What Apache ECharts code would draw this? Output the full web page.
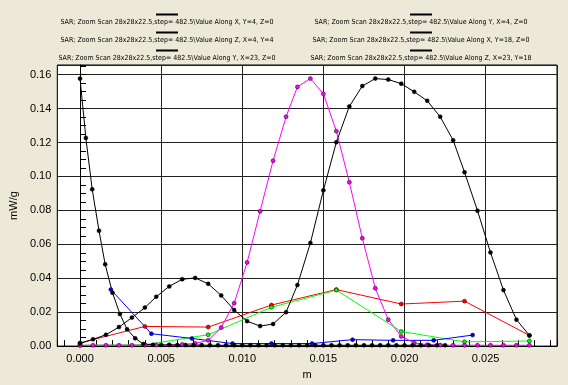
<!DOCTYPE html>
<html>
<head>
<meta charset="utf-8">
<script src="https://cdn.jsdelivr.net/npm/echarts@6/dist/echarts.min.js"></script>
<style>
  html, body { margin: 0; padding: 0; background: #ece9d8; }
  #chart { width: 568px; height: 385px; }
</style>
</head>
<body>
<div id="chart"></div>
<script>
// scan positions (m)
const fineX = [0, 0.0008, 0.0016, 0.0024, 0.0032, 0.0040, 0.0047, 0.0055, 0.0063, 0.0071,
  0.0079, 0.0087, 0.0095, 0.0103, 0.0111, 0.0119, 0.0127, 0.0134, 0.0142, 0.0150,
  0.0158, 0.0166, 0.0174, 0.0182, 0.0190, 0.0198, 0.0206, 0.0214, 0.0222, 0.0230,
  0.0237, 0.0245, 0.0253, 0.0261, 0.0269, 0.0277];
const coarseX = [0, 0.0040, 0.0079, 0.0118, 0.0158, 0.0198, 0.0237, 0.0277];
const blueX = [0.0019, 0.0044, 0.0069, 0.0094, 0.0118, 0.0143, 0.0168, 0.0193, 0.0218, 0.0242];
const depthX = [0, 0.00036, 0.00075, 0.00117, 0.00155, 0.0020, 0.00246, 0.0029, 0.0034, 0.0039,
  0.0045, 0.0050, 0.0055, 0.0060, 0.0065, 0.0070, 0.0075, 0.0080, 0.0085, 0.0090,
  0.0095, 0.0100, 0.0105, 0.0110, 0.0115, 0.0120, 0.0125, 0.0130, 0.0135, 0.0140,
  0.0145, 0.0150, 0.0155, 0.0160, 0.0165, 0.0170, 0.0175, 0.0180, 0.0185, 0.0190,
  0.0195, 0.0200, 0.0205, 0.0210, 0.0215, 0.0220, 0.0225];

// SAR values (mW/g)
const alongX_Y4 = [0.0019, 0.0116, 0.0112, 0.0242, 0.0333, 0.0248, 0.0265, 0.0063];   // red
const alongY_X4 = [0.0005, 0.0008, 0.0067, 0.0229, 0.0330, 0.0086, 0.0025, 0.0030];   // green
const alongZ_X4 = [0.0333, 0.0073, 0.0045, 0.0015, 0.0015, 0.0015, 0.0038, 0.0034, 0.0034, 0.0065]; // blue
const alongX_Y18 = [0.0015, 0.0040, 0.0067, 0.0112, 0.0168, 0.0227, 0.0291, 0.0352, 0.0394, 0.0402,
  0.0367, 0.0299, 0.0213, 0.0147, 0.0118, 0.0130, 0.0200, 0.0360, 0.0608, 0.0918,
  0.1202, 0.1413, 0.1533, 0.1577, 0.1571, 0.1547, 0.1499, 0.1446, 0.1352, 0.1213,
  0.1025, 0.0798, 0.0552, 0.0330, 0.0156, 0.0063];
const alongY_X23 = [0.0004, 0.0005, 0.0005, 0.0005, 0.0005, 0.0006, 0.0006, 0.0007, 0.0010, 0.0016,
  0.0034, 0.0109, 0.0253, 0.0493, 0.0795, 0.1093, 0.1352, 0.1528, 0.1577, 0.1487,
  0.1267, 0.0966, 0.0636, 0.0341, 0.0156, 0.0057, 0.0019, 0.0008, 0.0006, 0.0005,
  0.0005, 0.0005, 0.0005, 0.0005, 0.0005, 0.0005];
const alongZ_X23 = [0.1577, 0.1227, 0.0924, 0.0680, 0.0482, 0.0315, 0.0189, 0.0099, 0.0046, 0.0012,
  0.0008, 0.0007, 0.0007, 0.0006, 0.0006, 0.0006, 0.0006, 0.0005, 0.0005, 0.0005,
  0.0005, 0.0005, 0.0005, 0.0005, 0.0005, 0.0005, 0.0005, 0.0005, 0.0005, 0.0005,
  0.0005, 0.0005, 0.0005, 0.0005, 0.0005, 0.0005, 0.0005, 0.0005, 0.0005, 0.0005,
  0.0005, 0.0005, 0.0005, 0.0005, 0.0005, 0.0005, 0.0005];

const prefix = 'SAR; Zoom Scan 28x28x22.5,step= 482.5\\Value Along ';
const names = [
  prefix + 'X, Y=4, Z=0',
  prefix + 'Y, X=4, Z=0',
  prefix + 'Z, X=4, Y=4',
  prefix + 'X, Y=18, Z=0',
  prefix + 'Y, X=23, Z=0',
  prefix + 'Z, X=23, Y=18'
];
const colors = ['#ff0000', '#00ff00', '#0000ff', '#000000', '#ff00ff', '#000000'];
const xs = [coarseX, coarseX, blueX, fineX, fineX, depthX];
const ys = [alongX_Y4, alongY_X4, alongZ_X4, alongX_Y18, alongY_X23, alongZ_X23];

const zip = (a, b) => a.map((x, i) => [x, b[i]]);

const series = names.map((name, i) => ({
  name,
  type: 'line',
  data: zip(xs[i], ys[i]),
  symbol: 'circle',
  symbolSize: 4,
  lineStyle: { color: colors[i], width: 1 },
  itemStyle: { color: colors[i], borderColor: '#000', borderWidth: 0.5 },
  z: i === 3 ? 3 : 2
}));

const legendBox = (left, items) => ({
  left, top: 11,
  orient: 'vertical',
  padding: 0,
  itemGap: 3,
  itemWidth: 0,
  itemHeight: 0,
  icon: 'rect',
  selectedMode: false,
  data: items,
  formatter: n => '{sp| }{bar| }\n{t|' + n + '}',
  textStyle: {
    rich: {
      sp: { width: 104, height: 3, lineHeight: 8, fontSize: 7 },
      bar: { width: 22, height: 2, lineHeight: 8, fontSize: 7, backgroundColor: '#000' },
      t: { width: 230, align: 'center', lineHeight: 8, fontSize: 7,
           fontFamily: 'Liberation Sans Narrow, DejaVu Sans Condensed, sans-serif', color: '#000' }
    }
  }
});

const chart = echarts.init(document.getElementById('chart'));
chart.setOption({
  animation: false,
  backgroundColor: '#ece9d8',
  legend: [
    legendBox(46, [names[0], names[2], names[4]]),
    legendBox(300, [names[1], names[3], names[5]])
  ],
  grid: {
    left: 44, right: 11, top: 65, bottom: 30,
    show: true, backgroundColor: '#fff', borderColor: '#000', borderWidth: 1
  },
  xAxis: {
    type: 'value',
    min: -0.0014, max: 0.0294,
    splitNumber: 6,
    name: 'm', nameLocation: 'middle', nameGap: 21,
    nameTextStyle: { fontFamily: 'Liberation Sans', fontSize: 11, color: '#000' },
    axisLine: { lineStyle: { color: '#000' } },
    axisTick: { show: true, inside: true, length: 6, lineStyle: { color: '#000' } },
    minorTick: { show: true, splitNumber: 5, length: 6, lineStyle: { color: '#000' } },
    axisLabel: {
      formatter: v => v.toFixed(3), showMinLabel: false, showMaxLabel: false,
      margin: 7, fontFamily: 'Liberation Sans', fontSize: 11, color: '#000'
    },
    splitLine: { show: true, lineStyle: { color: '#222', width: 1 } }
  },
  yAxis: {
    type: 'value',
    min: 0, max: 0.1657, interval: 0.02,
    name: 'mW/g', nameLocation: 'middle', nameGap: 30, nameRotate: 90,
    nameTextStyle: { fontFamily: 'Liberation Sans', fontSize: 11, color: '#000' },
    axisLine: { show: true, lineStyle: { color: '#000' } },
    axisTick: { show: true, inside: true, length: 6, lineStyle: { color: '#000' } },
    minorTick: { show: true, splitNumber: 4, length: 6, lineStyle: { color: '#000' } },
    axisLabel: {
      formatter: v => v.toFixed(2), showMaxLabel: false,
      margin: 6, fontFamily: 'Liberation Sans', fontSize: 11, color: '#000'
    },
    splitLine: { show: true, lineStyle: { color: '#222', width: 1 } }
  },
  series
});
</script>
</body>
</html>
